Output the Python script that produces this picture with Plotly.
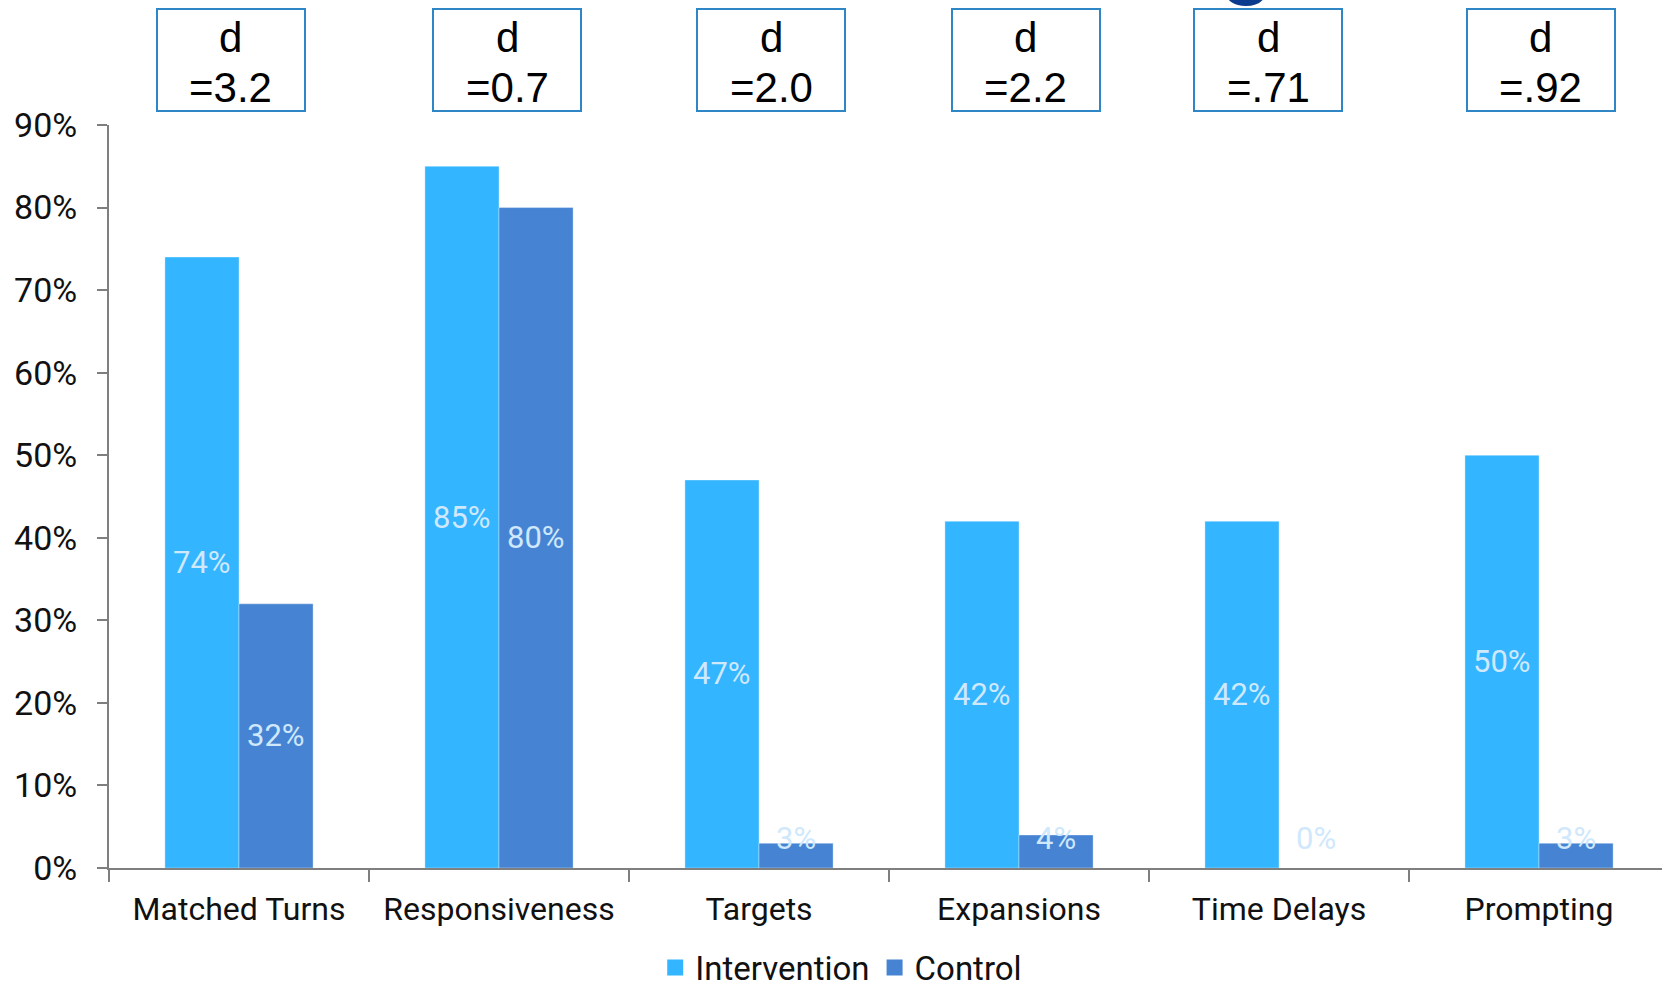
import plotly.graph_objects as go

# Share of sessions (%) per coaching strategy
categories = ["Matched Turns", "Responsiveness", "Targets", "Expansions", "Time Delays", "Prompting"]
intervention = [74, 85, 47, 42, 42, 50]
control = [32, 80, 3, 4, 0, 3]
effect_sizes = ["3.2", "0.7", "2.0", "2.2", ".71", ".92"]
y_ticks = [0, 10, 20, 30, 40, 50, 60, 70, 80, 90]

C_INT = "#33b5ff"
C_CTL = "#4684d3"
LABEL_C = "#cfe8fb"
AXIS_C = "#7f7f7f"
BOX_C = "#2f86c6"
BASE_FONT = "Roboto, Arial, sans-serif"
BOX_FONT = "Liberation Sans, Arial, sans-serif"

BARGAP = 0.43
bar_w = (1 - BARGAP) / 2

fig = go.Figure()
edge = dict(width=1, color="rgba(255,255,255,0.35)")
fig.add_trace(go.Bar(name="Intervention", x=categories, y=intervention,
                     marker=dict(color=C_INT, line=edge), showlegend=False))
fig.add_trace(go.Bar(name="Control", x=categories, y=control,
                     marker=dict(color=C_CTL, line=edge), showlegend=False))
# legend entries with larger square swatches
for name, col in (("Intervention", C_INT), ("Control", C_CTL)):
    fig.add_trace(go.Scatter(name=name, x=[None], y=[None], mode="markers",
                             marker=dict(symbol="square", size=17, color=col)))

annotations = []
# value labels in the middle of each bar (kept above the floor for short bars)
for i, (a, b) in enumerate(zip(intervention, control)):
    for val, off in ((a, -bar_w / 2), (b, bar_w / 2)):
        annotations.append(dict(
            x=i + off, y=max(val / 2, 3.6), xref="x", yref="y",
            text=f"{val}%", showarrow=False,
            font=dict(family=BASE_FONT, size=31, color=LABEL_C),
            xanchor="center", yanchor="middle"))

# effect-size boxes above each group
box_shift = [-8.5, 8, 12, 6.5, -11, 1.5]
BOX_Y = 1.0875
for i, (d, sh) in enumerate(zip(effect_sizes, box_shift)):
    annotations.append(dict(
        x=i, xshift=sh, y=BOX_Y, xref="x", yref="paper",
        text=" ", showarrow=False,
        bordercolor=BOX_C, borderwidth=2, borderpad=0,
        width=146, height=100, xanchor="center", yanchor="middle", bgcolor="#ffffff"))
    for txt, ys in (("d", 22), (f"={d}", -28)):
        annotations.append(dict(
            x=i, xshift=sh, y=BOX_Y, yshift=ys, xref="x", yref="paper",
            text=txt, showarrow=False,
            font=dict(family=BOX_FONT, size=42, color="#000000"),
            xanchor="center", yanchor="middle"))

# descender of the heading above the chart
annotations.append(dict(
    x=(1247 - 109) / 1553, y=1.236, xref="paper", yref="paper",
    text="g", showarrow=False,
    font=dict(family=BOX_FONT, size=100, color="#0b3b8f"),
    xanchor="center", yanchor="middle"))

fig.update_layout(
    width=1662, height=988,
    margin=dict(l=109, r=0, t=125, b=120, autoexpand=False),
    paper_bgcolor="white", plot_bgcolor="white",
    barmode="group", bargap=BARGAP, bargroupgap=0,
    showlegend=True,
    legend=dict(orientation="h", x=0.4715, y=-0.134, xanchor="center", yanchor="middle",
                font=dict(family=BASE_FONT, size=33, color="#111111"),
                itemwidth=30, traceorder="normal"),
    annotations=annotations,
    xaxis=dict(
        type="category", range=[-0.5, 5.473],
        showline=True, linecolor=AXIS_C, linewidth=2,
        ticks="outside", tickson="boundaries", ticklen=12, tickwidth=2, tickcolor=AXIS_C,
        tickfont=dict(family=BASE_FONT, size=32, color="#111111"),
        ticklabelstandoff=12, showgrid=False, zeroline=False),
    yaxis=dict(
        range=[0, 90], tickvals=y_ticks, ticktext=[f"{v}%" for v in y_ticks],
        showline=True, linecolor=AXIS_C, linewidth=2,
        ticks="outside", ticklen=10, tickwidth=2, tickcolor=AXIS_C,
        tickfont=dict(family=BASE_FONT, size=34, color="#111111"),
        ticklabelstandoff=13, showgrid=False, zeroline=False),
)

fig.write_html("out.html")
